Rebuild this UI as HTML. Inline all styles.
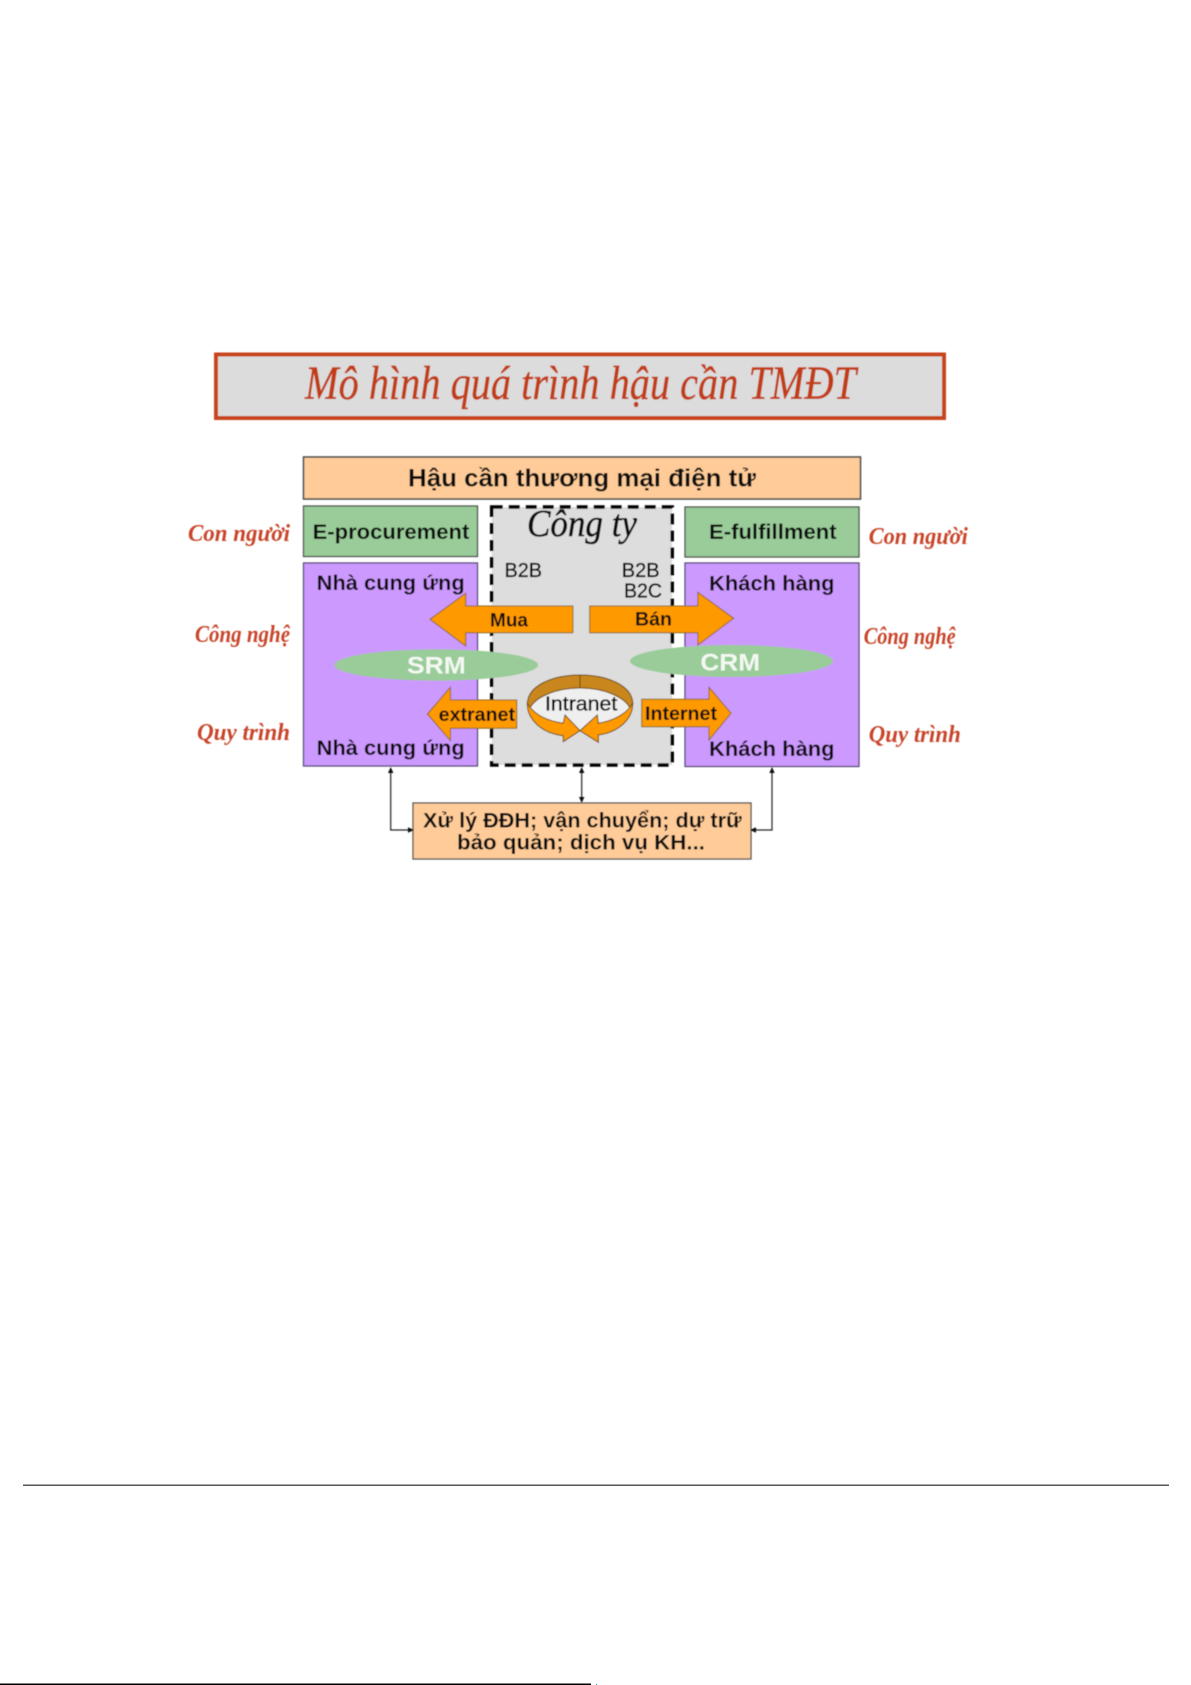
<!DOCTYPE html>
<html><head><meta charset="utf-8">
<style>
html,body{margin:0;padding:0;background:#fff;width:1191px;height:1685px;overflow:hidden}
svg{display:block}
text{font-family:"Liberation Sans",sans-serif;font-weight:bold;fill:#111}
.s{font-family:"Liberation Serif",serif;font-style:italic;font-weight:bold;fill:#c8452a}
.n{font-weight:normal;fill:#000;stroke:#000;stroke-width:.35}
</style></head><body>
<svg xmlns="http://www.w3.org/2000/svg" width="1191" height="1685" viewBox="0 0 1191 1685">
<defs><filter id="b" filterUnits="userSpaceOnUse" x="0" y="0" width="1191" height="1685"><feGaussianBlur stdDeviation="0.55"/></filter></defs>
<g filter="url(#b)">
<rect x="216" y="354.500" width="728" height="63.500" fill="#dcdcdc" stroke="#c8451f" stroke-width="4"/>
<text class="s" x="305" y="399" font-size="48" textLength="551" lengthAdjust="spacingAndGlyphs" style="font-weight:normal;fill:#c23c14;stroke:#c23c14;stroke-width:.5">Mô hình quá trình hậu cần TMĐT</text>

<rect x="303.500" y="457" width="557" height="42" fill="#ffcc99" stroke="#444" stroke-width="1.500"/>
<text x="408" y="486.500" font-size="25" textLength="348" lengthAdjust="spacingAndGlyphs">Hậu cần thương mại điện tử</text>

<rect x="303.500" y="506" width="174" height="50.500" fill="#99cc99" stroke="#444" stroke-width="1.200"/>
<rect x="685" y="507" width="174" height="50" fill="#99cc99" stroke="#444" stroke-width="1.200"/>
<text x="312.600" y="539" font-size="21" textLength="156.700" lengthAdjust="spacingAndGlyphs">E-procurement</text>
<text x="709" y="539" font-size="21" textLength="127.600" lengthAdjust="spacingAndGlyphs">E-fulfillment</text>

<rect x="303.500" y="563" width="174" height="203" fill="#cc99ff" stroke="#444066" stroke-width="1.200"/>
<rect x="685" y="563" width="174" height="203.500" fill="#cc99ff" stroke="#444066" stroke-width="1.200"/>

<rect x="491.700" y="507" width="180.500" height="258" fill="#dddddd" stroke="#000" stroke-width="3.500" stroke-dasharray="11 6"/>

<text x="527" y="536" font-size="38" textLength="110" lengthAdjust="spacingAndGlyphs" style="font-family:'Liberation Serif',serif;font-style:italic;font-weight:normal;fill:#111;stroke:#111;stroke-width:.6">Công ty</text>

<text class="n" x="504.500" y="577" font-size="20" textLength="37.500" lengthAdjust="spacingAndGlyphs">B2B</text>
<text class="n" x="621.800" y="577" font-size="20" textLength="37.800" lengthAdjust="spacingAndGlyphs">B2B</text>
<text class="n" x="624" y="597.700" font-size="20" textLength="38" lengthAdjust="spacingAndGlyphs">B2C</text>

<text x="316.700" y="590" font-size="21" textLength="148" lengthAdjust="spacingAndGlyphs">Nhà cung ứng</text>
<text x="316.700" y="755" font-size="21" textLength="148" lengthAdjust="spacingAndGlyphs">Nhà cung ứng</text>
<text x="709" y="590.700" font-size="21" textLength="125.600" lengthAdjust="spacingAndGlyphs">Khách hàng</text>
<text x="709" y="756" font-size="21" textLength="125.600" lengthAdjust="spacingAndGlyphs">Khách hàng</text>

<!-- Mua / Ban arrows -->
<polygon points="430,619.300 465.700,593.300 465.700,606 572.900,606 572.900,632.700 465.700,632.700 465.700,646" fill="#ff9900" stroke="#8a6a20" stroke-width="1"/>
<polygon points="733.600,618.300 697.900,592.300 697.900,606 589.700,606 589.700,632.700 697.900,632.700 697.900,645" fill="#ff9900" stroke="#8a6a20" stroke-width="1"/>
<text x="490" y="626.500" font-size="19" textLength="38" lengthAdjust="spacingAndGlyphs">Mua</text>
<text x="635" y="625.500" font-size="19" textLength="37" lengthAdjust="spacingAndGlyphs">Bán</text>

<!-- ellipses -->
<ellipse cx="436.300" cy="665" rx="101.800" ry="15.700" fill="#99cc99"/>
<ellipse cx="731.500" cy="661" rx="101.500" ry="16" fill="#99cc99"/>
<text x="407" y="673.500" font-size="24" textLength="58.700" lengthAdjust="spacingAndGlyphs" style="fill:#f4f8f2">SRM</text>
<text x="700.400" y="670.500" font-size="24" textLength="59.600" lengthAdjust="spacingAndGlyphs" style="fill:#f4f8f2">CRM</text>

<!-- extranet / internet arrows -->
<polygon points="427.400,714 450.400,687.300 450.400,700 516.700,700 516.700,728.300 450.400,728.300 450.400,740.700" fill="#ff9900" stroke="#8a6a20" stroke-width="1"/>
<polygon points="731,713.300 709,687.300 709,699.300 641.700,699.300 641.700,726.700 709,726.700 709,740" fill="#ff9900" stroke="#8a6a20" stroke-width="1"/>
<text x="438.700" y="721" font-size="19" textLength="76.300" lengthAdjust="spacingAndGlyphs">extranet</text>
<text x="645" y="720" font-size="19" textLength="72" lengthAdjust="spacingAndGlyphs">Internet</text>

<!-- Intranet ring -->
<ellipse cx="580" cy="709" rx="50" ry="21" fill="#efefef"/>
<path d="M527.500,703 C528,686 552,675 580,675 C608,675 632,686 632.700,703 C632.700,706 632,708 631,710 C626,697 604,688 580,688 C556,688 534,697 529,710 C528,708 527.500,706 527.500,703 Z" fill="#c8861a" stroke="#6b4a10" stroke-width="1"/>
<line x1="580" y1="675" x2="580" y2="688" stroke="#6b4a10" stroke-width="1"/>
<path d="M527.300,703.300 C527,718 540,733 563.300,735.700 L563.300,741.700 L580,730.700 L565,715 L563.300,723.300 C548,721 535,715 528.300,705 Z" fill="#ff9900" stroke="#6b4a10" stroke-width="1"/>
<path d="M632.700,703.300 C633,718 620,732 598.300,735 L598.300,742.300 L580,730.700 L597.300,715 L598.300,723.300 C612,721 625,715 631.700,705 Z" fill="#ff9900" stroke="#6b4a10" stroke-width="1"/>
<text class="n" x="545" y="710.700" font-size="20" textLength="72.300" lengthAdjust="spacingAndGlyphs">Intranet</text>

<!-- bottom box + connectors -->
<rect x="413" y="803" width="338" height="56" fill="#ffcc99" stroke="#444" stroke-width="1.200"/>
<text x="423" y="827.700" font-size="21" textLength="318.700" lengthAdjust="spacingAndGlyphs">Xử lý ĐĐH; vận chuyển; dự trữ</text>
<text x="457" y="849.500" font-size="21" textLength="248" lengthAdjust="spacingAndGlyphs">bảo quản; dịch vụ KH...</text>

<g stroke="#222" stroke-width="1.200" fill="none">
<path d="M390.700,770 V830 H410"/>
<path d="M772,770 V830 H754"/>
<path d="M581.700,770 V800"/>
</g>
<g fill="#111">
<polygon points="390.700,767 388,773 393.400,773"/>
<polygon points="772,767 769.300,773 774.700,773"/>
<polygon points="581.700,767 579,773 584.400,773"/>
<polygon points="581.700,803 579,797 584.400,797"/>
<polygon points="414,830 408,827.300 408,832.700"/>
<polygon points="750,830 756,827.300 756,832.700"/>
</g>

<!-- side labels -->
<text class="s" x="188" y="541" font-size="24" textLength="102" lengthAdjust="spacingAndGlyphs">Con người</text>
<text class="s" x="195" y="642" font-size="24" textLength="95" lengthAdjust="spacingAndGlyphs">Công nghệ</text>
<text class="s" x="197" y="740" font-size="24" textLength="93" lengthAdjust="spacingAndGlyphs">Quy trình</text>
<text class="s" x="868.800" y="544" font-size="24" textLength="99" lengthAdjust="spacingAndGlyphs">Con người</text>
<text class="s" x="863.700" y="644" font-size="24" textLength="92" lengthAdjust="spacingAndGlyphs">Công nghệ</text>
<text class="s" x="868.800" y="742" font-size="24" textLength="92" lengthAdjust="spacingAndGlyphs">Quy trình</text>
</g>

<!-- page rules -->
<rect x="23" y="1484.500" width="1146" height="1.500" fill="#555"/>
<rect x="0" y="1683.500" width="591" height="1.500" fill="#000"/>
<rect x="596" y="1684" width="1" height="1" fill="#0aa"/>
</svg>
</body></html>
